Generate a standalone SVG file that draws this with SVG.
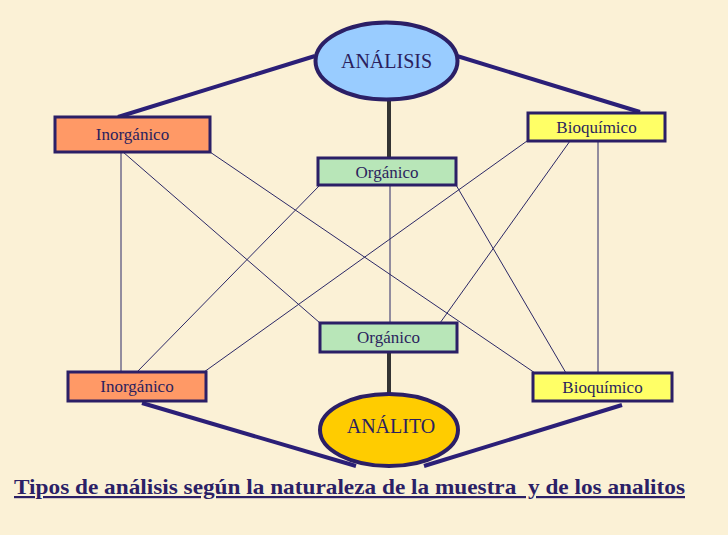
<svg xmlns="http://www.w3.org/2000/svg" width="728" height="535" viewBox="0 0 728 535">
<style>
.box{stroke:#2b1f66;stroke-width:3}
.ell{stroke:#2b1f66;stroke-width:4}
.lbl{font-family:"Liberation Serif","Times New Roman",serif;font-size:17px;fill:#2b1f5e;text-anchor:middle}
.big{font-size:20px}
.thin{stroke:#2b2866;stroke-width:1;fill:none}
.thick{stroke:#2b1f77;stroke-width:4;fill:none}
.stem{stroke:#333333;stroke-width:4;fill:none}
.title{font-family:"Liberation Serif","Times New Roman",serif;font-size:22px;font-weight:bold;fill:#2b1f66;text-decoration:underline}
</style>
<rect width="728" height="535" fill="#fbf1d6"/>
<g id="connectors">
<line class="thick" x1="315" y1="56" x2="118" y2="117"/>
<line class="thick" x1="457" y1="56" x2="640" y2="112"/>
<line class="stem" x1="389" y1="100" x2="389" y2="158"/>
<line class="stem" x1="389" y1="352" x2="389" y2="395"/>
<line class="thick" x1="142" y1="403" x2="356" y2="466"/>
<line class="thick" x1="622" y1="405" x2="424" y2="466"/>
<line class="thin" x1="121" y1="152" x2="121" y2="372"/>
<line class="thin" x1="123" y1="152" x2="320" y2="323"/>
<line class="thin" x1="210" y1="152" x2="535" y2="373"/>
<line class="thin" x1="527" y1="141" x2="204" y2="372"/>
<line class="thin" x1="570" y1="141" x2="440" y2="323"/>
<line class="thin" x1="598" y1="141" x2="598" y2="373"/>
<line class="thin" x1="320" y1="185" x2="137" y2="372"/>
<line class="thin" x1="390" y1="185" x2="390" y2="323"/>
<line class="thin" x1="456" y1="185" x2="566" y2="373"/>
</g>
<g id="analisis">
<ellipse class="ell" cx="386.5" cy="61" rx="71" ry="38.5" fill="#99ccff"/>
<text class="lbl big" x="386.5" y="68">ANÁLISIS</text>
</g>
<g id="inorganico-top">
<rect class="box" x="55" y="117" width="155" height="35" fill="#ff9966"/>
<text class="lbl" x="132.5" y="140">Inorgánico</text>
</g>
<g id="bioquimico-top">
<rect class="box" x="528" y="113" width="137" height="28" fill="#ffff66"/>
<text class="lbl" x="596.5" y="133">Bioquímico</text>
</g>
<g id="organico-top">
<rect class="box" x="318" y="158" width="138" height="27" fill="#b8e6b8"/>
<text class="lbl" x="387" y="178">Orgánico</text>
</g>
<g id="organico-bottom">
<rect class="box" x="320" y="323" width="137" height="29" fill="#b8e6b8"/>
<text class="lbl" x="388.5" y="343">Orgánico</text>
</g>
<g id="inorganico-bottom">
<rect class="box" x="68" y="372" width="138" height="29" fill="#ff9966"/>
<text class="lbl" x="137" y="392">Inorgánico</text>
</g>
<g id="bioquimico-bottom">
<rect class="box" x="533" y="373" width="139" height="28" fill="#ffff66"/>
<text class="lbl" x="602.5" y="393">Bioquímico</text>
</g>
<g id="analito">
<ellipse class="ell" cx="389" cy="430" rx="69" ry="36" fill="#ffcc00"/>
<text class="lbl big" x="391" y="433">ANÁLITO</text>
</g>
<text class="title" x="14" y="494" textLength="671" lengthAdjust="spacingAndGlyphs" xml:space="preserve">Tipos de análisis según la naturaleza de la muestra  y de los analitos</text>
</svg>
